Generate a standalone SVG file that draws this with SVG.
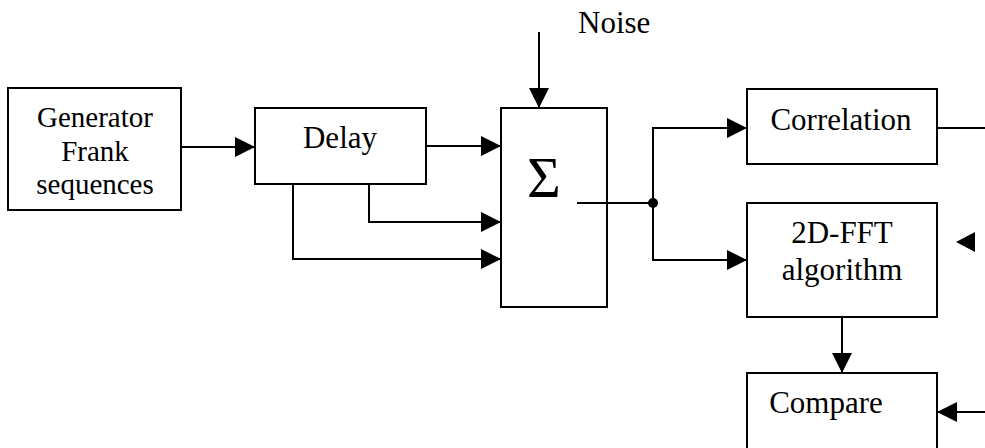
<svg xmlns="http://www.w3.org/2000/svg" width="985" height="448" viewBox="0 0 985 448" font-family="'Liberation Serif', 'Times New Roman', 'DejaVu Serif', serif">
<style>
.box{fill:#fff;stroke:#000;stroke-width:2}
.t{font-family:"Liberation Serif","Times New Roman","DejaVu Serif",serif;font-size:31px;fill:#000}
.c{fill:none;stroke:#000;stroke-width:2}
</style>
<defs>
<marker id="ah" markerWidth="20" markerHeight="20" viewBox="0 0 20 20" refX="20" refY="10" orient="auto" markerUnits="userSpaceOnUse">
<path d="M0,0 L20,10 L0,20 Z" fill="#000"/>
</marker>
</defs>
<rect width="985" height="448" fill="#fff"/>
<g id="generator">
<rect class="box" x="8" y="88" width="173" height="122"/>
<text class="t" x="95" y="127" text-anchor="middle" style="font-size:29px">Generator</text>
<text class="t" x="95" y="161" text-anchor="middle" style="font-size:29px">Frank</text>
<text class="t" x="95" y="194" text-anchor="middle" style="font-size:29px">sequences</text>
</g>
<g id="delay">
<rect class="box" x="255" y="108" width="171" height="76"/>
<text class="t" x="340" y="148" text-anchor="middle">Delay</text>
</g>
<g id="sum">
<rect class="box" x="501" y="108" width="106" height="199"/>
<text class="t" x="544" y="197" text-anchor="middle" style="font-size:58px">Σ</text>
</g>
<g id="noise">
<text class="t" x="578" y="33">Noise</text>
</g>
<g id="correlation">
<rect class="box" x="747" y="89" width="190" height="75"/>
<text class="t" x="841" y="130" text-anchor="middle">Correlation</text>
</g>
<g id="fft">
<rect class="box" x="747" y="203" width="190" height="114"/>
<text class="t" x="842" y="243" text-anchor="middle">2D-FFT</text>
<text class="t" x="842" y="280" text-anchor="middle">algorithm</text>
</g>
<g id="compare">
<rect class="box" x="747" y="373" width="190" height="90"/>
<text class="t" x="826" y="413" text-anchor="middle">Compare</text>
</g>
<g id="connectors">
<path class="c" d="M181,147 H255" marker-end="url(#ah)"/>
<path class="c" d="M539,32 V108" marker-end="url(#ah)"/>
<path class="c" d="M426,146 H501" marker-end="url(#ah)"/>
<path class="c" d="M369,184 V222 H501" marker-end="url(#ah)"/>
<path class="c" d="M293,184 V259 H501" marker-end="url(#ah)"/>
<path class="c" d="M577,203 H653"/>
<circle cx="653" cy="203" r="5" fill="#000"/>
<path class="c" d="M653,203 V128 H747" marker-end="url(#ah)"/>
<path class="c" d="M653,203 V260 H747" marker-end="url(#ah)"/>
<path class="c" d="M937,128 H985"/>
<path d="M956,242 L975,232 L975,252 Z" fill="#000"/>
<path class="c" d="M842,317 V373" marker-end="url(#ah)"/>
<path class="c" d="M985,412 H937" marker-end="url(#ah)"/>
</g>
</svg>
